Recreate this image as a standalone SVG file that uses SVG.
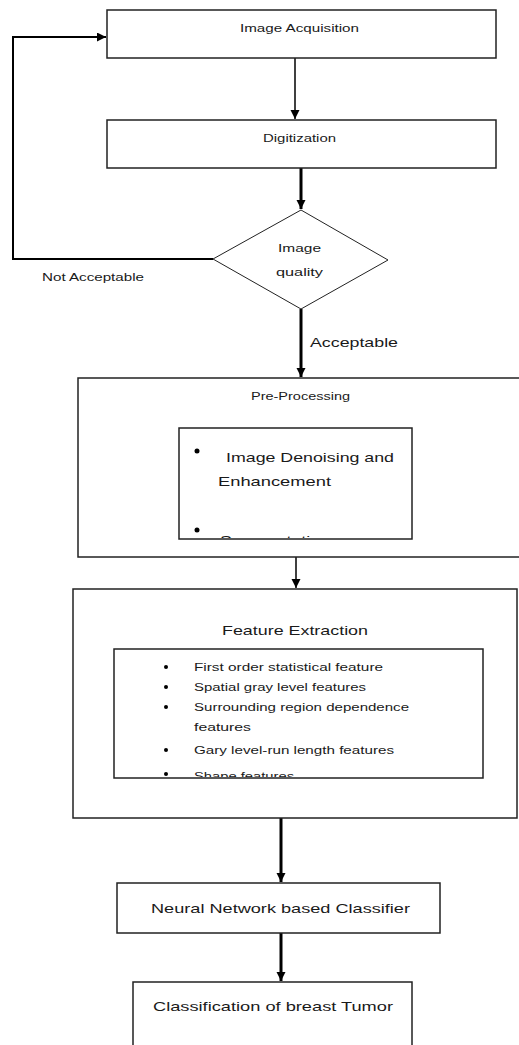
<svg xmlns="http://www.w3.org/2000/svg" width="519" height="1045" viewBox="0 0 519 1045">
<style>
.box{fill:#fff;stroke:#222;stroke-width:1.5}
.t{font-family:"Liberation Sans",Arial,sans-serif;fill:#1a1a1a}
.s{font-size:10px}
.m{font-size:13px}
.c{stroke:#000;fill:none}
</style>
<defs>
<marker id="ah" markerUnits="userSpaceOnUse" markerWidth="12" markerHeight="10" refX="9" refY="4.5" orient="auto">
<path d="M0,0 L9,4.5 L0,9 Z" fill="#000"/>
</marker>
<clipPath id="cp1"><rect x="179" y="428" width="233" height="110"/></clipPath>
<clipPath id="cp2"><rect x="114" y="649" width="369" height="128"/></clipPath>
</defs>
<rect width="519" height="1045" fill="#fff"/>
<g id="connectors">
<line class="c" x1="295" y1="58" x2="295" y2="119" stroke-width="1.5" marker-end="url(#ah)"/>
<line class="c" x1="301" y1="168" x2="301" y2="209" stroke-width="3" marker-end="url(#ah)"/>
<polyline class="c" points="213,259 13,259 13,37 106,37" stroke-width="2" marker-end="url(#ah)"/>
<line class="c" x1="301" y1="309" x2="301" y2="377" stroke-width="3" marker-end="url(#ah)"/>
<line class="c" x1="296" y1="557" x2="296" y2="588" stroke-width="1.5" marker-end="url(#ah)"/>
<line class="c" x1="281" y1="818" x2="281" y2="882" stroke-width="3" marker-end="url(#ah)"/>
<line class="c" x1="281" y1="933" x2="281" y2="981" stroke-width="3" marker-end="url(#ah)"/>
<text class="t s" x="42" y="281" textLength="102" lengthAdjust="spacingAndGlyphs">Not Acceptable</text>
<text class="t m" x="310" y="347" textLength="88" lengthAdjust="spacingAndGlyphs">Acceptable</text>
</g>
<g id="acquisition">
<rect class="box" x="107" y="10" width="389" height="48"/>
<text class="t s" x="240" y="32" textLength="119" lengthAdjust="spacingAndGlyphs">Image Acquisition</text>
</g>
<g id="digitization">
<rect class="box" x="107" y="120" width="389" height="48"/>
<text class="t s" x="263" y="142" textLength="73" lengthAdjust="spacingAndGlyphs">Digitization</text>
</g>
<g id="quality">
<polygon points="301,210 388,260 301,309 213,259" fill="#fff" stroke="#222" stroke-width="1"/>
<text class="t s" x="278" y="252" textLength="43" lengthAdjust="spacingAndGlyphs">Image</text>
<text class="t s" x="276" y="276" textLength="47" lengthAdjust="spacingAndGlyphs">quality</text>
</g>
<g id="preprocessing">
<rect class="box" x="78" y="378" width="450" height="179"/>
<text class="t s" x="251" y="400" textLength="99" lengthAdjust="spacingAndGlyphs">Pre-Processing</text>
<rect class="box" x="179" y="428" width="233" height="111"/>
<g clip-path="url(#cp1)">
<circle cx="197" cy="451" r="2.5" fill="#000"/>
<text class="t m" x="226" y="462" textLength="168" lengthAdjust="spacingAndGlyphs">Image Denoising and</text>
<text class="t m" x="218" y="486" textLength="113" lengthAdjust="spacingAndGlyphs">Enhancement</text>
<circle cx="197" cy="530" r="2.5" fill="#000"/>
<text class="t m" x="220" y="545" textLength="110" lengthAdjust="spacingAndGlyphs">Segmentation</text>
</g>
</g>
<g id="features">
<rect class="box" x="73" y="589" width="444" height="229"/>
<text class="t m" x="222" y="635" textLength="146" lengthAdjust="spacingAndGlyphs">Feature Extraction</text>
<rect class="box" x="114" y="649" width="369" height="129"/>
<g clip-path="url(#cp2)" class="t s">
<circle cx="166" cy="667" r="2" fill="#000"/>
<text x="194" y="671" textLength="189" lengthAdjust="spacingAndGlyphs">First order statistical feature</text>
<circle cx="166" cy="687" r="2" fill="#000"/>
<text x="194" y="691" textLength="172" lengthAdjust="spacingAndGlyphs">Spatial gray level features</text>
<circle cx="166" cy="707" r="2" fill="#000"/>
<text x="194" y="711" textLength="215" lengthAdjust="spacingAndGlyphs">Surrounding region dependence</text>
<text x="194" y="731" textLength="57" lengthAdjust="spacingAndGlyphs">features</text>
<circle cx="166" cy="750" r="2" fill="#000"/>
<text x="194" y="754" textLength="200" lengthAdjust="spacingAndGlyphs">Gary level-run length features</text>
<circle cx="166" cy="774" r="2" fill="#000"/>
<text x="194" y="780" textLength="100" lengthAdjust="spacingAndGlyphs">Shape features</text>
</g>
</g>
<g id="classifier">
<rect class="box" x="117" y="883" width="323" height="50"/>
<text class="t m" x="151" y="913" textLength="259" lengthAdjust="spacingAndGlyphs">Neural Network based Classifier</text>
</g>
<g id="classification">
<rect class="box" x="133" y="982" width="279" height="80"/>
<text class="t m" x="153" y="1011" textLength="240" lengthAdjust="spacingAndGlyphs">Classification of breast Tumor</text>
</g>
</svg>
